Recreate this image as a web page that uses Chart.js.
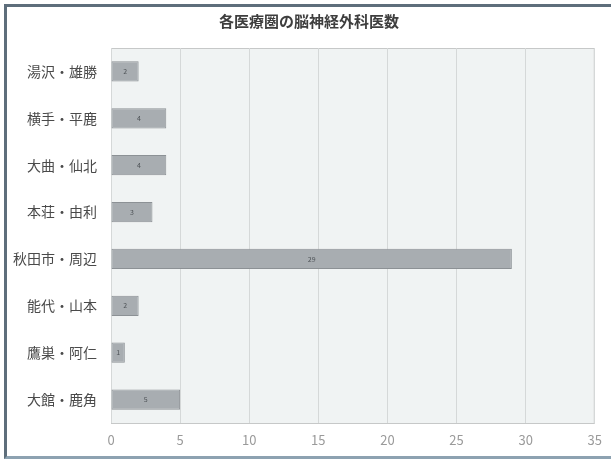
<!DOCTYPE html>
<html>
<head>
<meta charset="utf-8">
<script src="https://cdn.jsdelivr.net/npm/chart.js@4"></script>
<style>
  body { margin: 0; background: #ffffff; }
  #wrap { position: relative; width: 611px; height: 459px; overflow: hidden; }
  #frame {
    position: absolute; left: 4px; top: 4px; width: 620px; height: 449px;
    border: 3px solid #5e6e7b; border-bottom-color: #8da2b1; pointer-events: none;
  }
</style>
</head>
<body>
<div id="wrap">
  <canvas id="chart" width="611" height="459"></canvas>
  <div id="frame"></div>
</div>
<script>
// --- chart data ---
const titleText = '各医療圏の脳神経外科医数';
const regions = ['湯沢・雄勝', '横手・平鹿', '大曲・仙北', '本荘・由利', '秋田市・周辺', '能代・山本', '鷹巣・阿仁', '大館・鹿角'];
const doctors = [2, 4, 4, 3, 29, 2, 1, 5];
const xTicks = [0, 5, 10, 15, 20, 25, 30, 35];

const fontFamily = '"Noto Sans CJK JP", "Noto Sans", sans-serif';

// fills the plot area and draws its border
const plotBackground = {
    id: 'plotBackground',
    beforeDraw(chart) {
        const { ctx, chartArea: a } = chart;
        ctx.save();
        ctx.fillStyle = '#f0f3f3';
        ctx.fillRect(a.left, a.top, a.right - a.left, a.bottom - a.top);
        ctx.strokeStyle = '#c6c8c8';
        ctx.lineWidth = 1;
        ctx.strokeRect(a.left + 0.5, a.top + 0.5, a.right - a.left - 1, a.bottom - a.top);
        ctx.restore();
    }
};

// title is a bit right of the plot-centre in the original, so it is drawn here
const chartTitle = {
    id: 'chartTitle',
    afterDraw(chart) {
        const { ctx } = chart;
        ctx.save();
        ctx.font = 'bold 15px ' + fontFamily;
        ctx.fillStyle = '#3e3e3e';
        ctx.textAlign = 'center';
        ctx.textBaseline = 'middle';
        ctx.fillText(titleText, 309, 21);
        ctx.restore();
    }
};

// small value labels in the middle of each bar
const barLabels = {
    id: 'barLabels',
    afterDatasetsDraw(chart) {
        const { ctx } = chart;
        const meta = chart.getDatasetMeta(0);
        ctx.save();
        ctx.font = '7px ' + fontFamily;
        ctx.fillStyle = '#4e5357';
        ctx.textAlign = 'center';
        ctx.textBaseline = 'middle';
        meta.data.forEach((bar, i) => {
            const cx = (bar.base + bar.x) / 2;
            ctx.fillText(String(doctors[i]), cx, bar.y);
        });
        ctx.restore();
    }
};

new Chart(document.getElementById('chart'), {
    type: 'bar',
    data: {
        labels: regions,
        datasets: [{
            label: titleText,
            data: doctors,
            backgroundColor: '#a8adb1',
            borderColor: '#8c9195',
            borderWidth: 1,
            borderSkipped: false,
            barPercentage: 0.43,
            categoryPercentage: 1
        }]
    },
    options: {
        indexAxis: 'y',
        responsive: false,
        animation: false,
        layout: { padding: { left: 0, right: 14, top: 48, bottom: 0 } },
        plugins: {
            legend: { display: false },
            tooltip: { enabled: false },
            title: { display: false }
        },
        scales: {
            x: {
                min: 0,
                max: 35,
                afterBuildTicks(scale) {
                    scale.ticks = xTicks.map(v => ({ value: v }));
                },
                afterFit(scale) { scale.height = 36; },
                grid: { color: '#d5d8d8', drawTicks: false },
                border: { display: false },
                ticks: {
                    color: '#9a9a9a',
                    padding: 9,
                    font: { family: fontFamily, size: 13 }
                }
            },
            y: {
                afterFit(scale) { scale.width = 111; },
                grid: { display: false, drawTicks: false },
                border: { display: false },
                ticks: {
                    color: '#4a4a4a',
                    padding: 14,
                    font: { family: fontFamily, size: 14 }
                }
            }
        }
    },
    plugins: [plotBackground, barLabels, chartTitle]
});
</script>
</body>
</html>
